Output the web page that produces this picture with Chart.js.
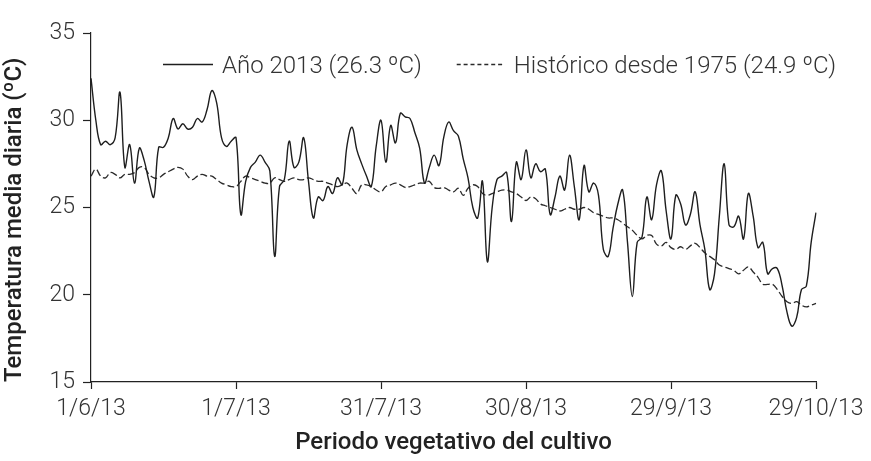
<!DOCTYPE html>
<html>
<head>
<meta charset="utf-8">
<script src="https://cdn.jsdelivr.net/npm/chart.js@4.4.1/dist/chart.umd.min.js"></script>
<style>
html,body{margin:0;padding:0;background:#fff;}
#wrap{width:871px;height:461px;position:relative;}
</style>
</head>
<body>
<div id="wrap"><canvas id="c" width="871" height="461"></canvas></div>
<script>
// Data
const startDate = [2013, 5, 1]; // 1 June 2013
const dayCount = 151;
const tickLabels = ['1/6/13', '1/7/13', '31/7/13', '30/8/13', '29/9/13', '29/10/13'];
const seriesNames = ['Año 2013 (26.3 ºC)', 'Histórico desde 1975 (24.9 ºC)'];

const year2013 = [
32.4,30.0,28.6,28.8,28.6,29.0,31.6,27.3,28.6,26.4,
28.4,27.7,26.5,25.6,28.45,28.45,29.0,30.1,29.5,29.8,
29.5,29.6,30.1,29.9,30.6,31.7,31.0,29.0,28.5,28.8,
29.0,24.6,26.5,27.3,27.6,28.0,27.6,27.1,22.2,26.2,
26.6,28.8,27.3,27.6,29.0,26.5,24.4,25.6,25.4,26.2,
25.8,26.7,26.3,28.6,29.6,28.3,27.5,26.8,26.2,28.5,
30.0,27.6,29.7,28.7,30.4,30.2,30.1,29.3,28.4,26.4,
27.3,28.0,27.4,29.05,29.9,29.4,29.1,27.8,26.7,25.0,
24.4,26.5,21.9,25.0,26.6,26.8,27.0,24.2,27.6,26.6,
28.3,26.7,27.5,27.05,27.2,24.6,25.6,26.8,26.0,28.0,
26.2,24.3,27.4,25.9,26.4,25.7,22.6,22.2,23.8,25.2,
26.0,23.0,19.9,23.0,23.3,25.6,24.3,26.3,27.1,24.8,
23.2,25.7,25.2,24.0,24.6,25.9,24.0,22.6,20.3,21.2,
24.5,27.5,24.0,23.9,24.5,23.2,25.8,24.5,22.7,23.0,
21.2,21.5,21.5,20.5,19.0,18.2,18.7,20.3,20.5,23.0,
24.7
];

const historical = [
26.8,27.2,26.8,26.7,27.0,26.9,26.7,26.9,26.9,27.0,
27.3,27.3,26.9,26.7,26.7,26.9,27.05,27.2,27.3,27.2,
26.8,26.6,26.8,26.9,26.8,26.8,26.6,26.4,26.3,26.2,
26.2,26.5,26.8,26.7,26.6,26.5,26.4,26.4,26.7,26.6,
26.5,26.6,26.7,26.6,26.6,26.7,26.6,26.5,26.5,26.4,
26.3,26.2,26.3,26.4,26.1,25.8,26.3,26.3,26.2,26.0,
25.9,26.2,26.3,26.4,26.3,26.15,26.2,26.3,26.4,26.4,
26.5,26.15,26.1,26.15,26.0,25.9,26.1,25.7,26.1,26.3,
26.2,25.8,25.7,25.8,25.9,26.0,26.0,25.9,25.8,25.6,
25.4,25.6,25.5,25.2,25.1,25.0,24.9,24.8,24.9,25.0,
24.9,24.9,25.0,24.9,24.7,24.6,24.5,24.4,24.4,24.3,
24.1,23.9,23.7,23.4,23.2,23.4,23.4,22.9,22.8,23.0,
22.7,22.6,22.75,22.6,22.8,22.95,22.7,22.4,22.2,22.0,
21.7,21.6,21.5,21.4,21.2,21.4,21.6,21.3,21.0,20.6,
20.6,20.6,20.3,19.9,19.6,19.5,19.6,19.4,19.3,19.4,
19.5
];

// category labels (one per day)
const days = [];
for (let i = 0; i < dayCount; i++) {
  const dt = new Date(startDate[0], startDate[1], startDate[2] + i);
  days.push(dt.getDate() + '/' + (dt.getMonth() + 1) + '/' + String(dt.getFullYear()).slice(2));
}

const FONT = 'Roboto, "Noto Sans", sans-serif';
const AXIS_COLOR = '#222';

const legendPlugin = {
  id: 'customLegend',
  afterDraw(chart) {
    const ctx = chart.ctx;
    const ca = chart.chartArea;
    const y = ca.top + 31.5;
    ctx.save();
    ctx.font = '300 24px ' + FONT;
    ctx.fillStyle = '#333';
    ctx.textBaseline = 'middle';
    let x = ca.left + 72;
    chart.data.datasets.forEach((ds, i) => {
      const len = i === 0 ? 50 : 48;
      ctx.beginPath();
      ctx.strokeStyle = ds.borderColor;
      ctx.lineWidth = ds.borderWidth;
      ctx.setLineDash(i === 0 ? [] : [4, 2.9]);
      ctx.moveTo(x, y);
      ctx.lineTo(x + len, y);
      ctx.stroke();
      ctx.setLineDash([]);
      x += len + 9;
      ctx.fillText(ds.label, x, y + 2);
      x += ctx.measureText(ds.label).width + 35;
    });
    ctx.restore();
  }
};

new Chart(document.getElementById('c'), {
  type: 'line',
  data: {
    labels: days,
    datasets: [
      {
        label: seriesNames[0],
        data: year2013,
        borderColor: '#1e1e1e',
        borderWidth: 1.4,
        pointRadius: 0,
        tension: 0.4,
        fill: false
      },
      {
        label: seriesNames[1],
        data: historical,
        borderColor: '#2a2a2a',
        borderWidth: 1.3,
        borderDash: [7, 3],
        pointRadius: 0,
        tension: 0.4,
        fill: false
      }
    ]
  },
  options: {
    responsive: false,
    animation: false,
    devicePixelRatio: 1,
    layout: { padding: { left: 0, right: 55, top: 33, bottom: 0 } },
    plugins: {
      legend: { display: false },
      tooltip: { enabled: false }
    },
    scales: {
      x: {
        type: 'category',
        offset: false,
        afterFit(scale) { scale.height = 79; },
        border: { display: true, color: AXIS_COLOR, width: 1.2 },
        grid: {
          display: true,
          drawOnChartArea: false,
          drawTicks: true,
          tickLength: 7,
          tickWidth: 1.2,
          tickColor: (c) => (tickLabels.includes(days[c.index]) ? AXIS_COLOR : 'rgba(0,0,0,0)')
        },
        ticks: {
          autoSkip: false,
          maxRotation: 0,
          minRotation: 0,
          padding: 6,
          color: '#333',
          font: { family: FONT, size: 23, weight: '300' },
          callback: function (v, i) {
            const l = days[i];
            return tickLabels.includes(l) ? l : '';
          }
        },
        title: {
          display: true,
          text: 'Periodo vegetativo del cultivo',
          color: '#222',
          font: { family: FONT, size: 24, weight: '500' },
          padding: { top: 4, bottom: 4 }
        }
      },
      y: {
        min: 15,
        max: 35,
        afterFit(scale) { scale.width = 91; },
        border: { display: true, color: AXIS_COLOR, width: 1.2 },
        grid: {
          display: true,
          drawOnChartArea: false,
          drawTicks: true,
          tickLength: 8,
          tickWidth: 1.2,
          tickColor: AXIS_COLOR
        },
        ticks: {
          stepSize: 5,
          padding: 8,
          color: '#333',
          font: { family: FONT, size: 23, weight: '300' }
        },
        title: {
          display: true,
          align: 'start',
          text: 'Temperatura media diaria (ºC)',
          color: '#222',
          font: { family: FONT, size: 24, weight: '500' },
          padding: { top: 1, bottom: 4 }
        }
      }
    }
  },
  plugins: [legendPlugin]
});
</script>
</body>
</html>
